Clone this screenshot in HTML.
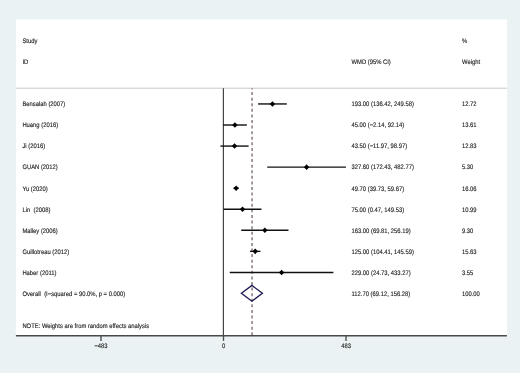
<!DOCTYPE html><html><head><meta charset="utf-8"><style>html,body{margin:0;padding:0;background:#eaf2f3;overflow:hidden}svg{display:block;will-change:transform;filter:blur(0.35px)}text{font-family:"Liberation Sans",sans-serif;font-size:5.85px;fill:#222222;white-space:pre;text-rendering:geometricPrecision;stroke:#222222;stroke-width:0.12px}</style></head><body>
<svg width="520" height="373" viewBox="0 0 520 373">
<rect x="0" y="0" width="520" height="373" fill="#eaf2f3"/>
<rect x="15.9" y="19.5" width="491" height="316" fill="#ffffff"/>
<text transform="translate(22.40 42.70) scale(1 1.120)">Study</text>
<text transform="translate(22.40 64.30) scale(1 1.120)">ID</text>
<text transform="translate(351.50 64.30) scale(1 1.120)">WMD (95% CI)</text>
<text transform="translate(462.00 42.70) scale(1 1.120)">%</text>
<text transform="translate(462.00 64.30) scale(1 1.120)">Weight</text>
<line x1="15.9" y1="88.2" x2="506.9" y2="88.2" stroke="#c8c8c8" stroke-width="1"/>
<line x1="223.4" y1="88.2" x2="223.4" y2="335.5" stroke="#454545" stroke-width="1.2"/>
<line x1="252.08" y1="88.2" x2="252.08" y2="335.5" stroke="#968a8e" stroke-width="1.7" stroke-dasharray="3.0 2.585" stroke-dashoffset="1.7"/>
<text transform="translate(22.40 106.30) scale(1 1.120)">Bensalah (2007)</text>
<text transform="translate(351.50 106.30) scale(1 1.120)">193.00 (136.42, 249.58)</text>
<text transform="translate(462.00 106.30) scale(1 1.120)">12.72</text>
<line x1="258.10" y1="103.95" x2="286.80" y2="103.95" stroke="#111" stroke-width="1.4"/>
<path d="M269.75 103.95 L272.45 101.15 L275.15 103.95 L272.45 106.75 Z" fill="#000"/>
<text transform="translate(22.40 127.36) scale(1 1.120)">Huang (2016)</text>
<text transform="translate(351.50 127.36) scale(1 1.120)">45.00 (&#8722;2.14, 92.14)</text>
<text transform="translate(462.00 127.36) scale(1 1.120)">13.61</text>
<line x1="222.96" y1="125.01" x2="246.87" y2="125.01" stroke="#111" stroke-width="1.4"/>
<path d="M232.21 125.01 L234.91 122.21 L237.61 125.01 L234.91 127.81 Z" fill="#000"/>
<text transform="translate(22.40 148.42) scale(1 1.120)">Ji (2016)</text>
<text transform="translate(351.50 148.42) scale(1 1.120)">43.50 (&#8722;11.97, 98.97)</text>
<text transform="translate(462.00 148.42) scale(1 1.120)">12.83</text>
<line x1="220.46" y1="146.07" x2="248.60" y2="146.07" stroke="#111" stroke-width="1.4"/>
<path d="M231.83 146.07 L234.53 143.27 L237.23 146.07 L234.53 148.87 Z" fill="#000"/>
<text transform="translate(22.40 169.48) scale(1 1.120)">GUAN (2012)</text>
<text transform="translate(351.50 169.48) scale(1 1.120)">327.60 (172.43, 482.77)</text>
<text transform="translate(462.00 169.48) scale(1 1.120)">5.30</text>
<line x1="267.23" y1="167.13" x2="345.94" y2="167.13" stroke="#111" stroke-width="1.4"/>
<path d="M303.89 167.13 L306.59 164.33 L309.29 167.13 L306.59 169.93 Z" fill="#000"/>
<text transform="translate(22.40 190.54) scale(1 1.120)">Yu (2020)</text>
<text transform="translate(351.50 190.54) scale(1 1.120)">49.70 (39.73, 59.67)</text>
<text transform="translate(462.00 190.54) scale(1 1.120)">16.06</text>
<line x1="233.58" y1="188.19" x2="238.63" y2="188.19" stroke="#111" stroke-width="1.4"/>
<path d="M233.41 188.19 L236.11 185.39 L238.81 188.19 L236.11 190.99 Z" fill="#000"/>
<text transform="translate(22.40 211.60) scale(1 1.120)">Lin  (2008)</text>
<text transform="translate(351.50 211.60) scale(1 1.120)">75.00 (0.47, 149.53)</text>
<text transform="translate(462.00 211.60) scale(1 1.120)">10.99</text>
<line x1="223.62" y1="209.25" x2="261.42" y2="209.25" stroke="#111" stroke-width="1.4"/>
<path d="M239.82 209.25 L242.52 206.45 L245.22 209.25 L242.52 212.05 Z" fill="#000"/>
<text transform="translate(22.40 232.66) scale(1 1.120)">Malley (2006)</text>
<text transform="translate(351.50 232.66) scale(1 1.120)">163.00 (69.81, 256.19)</text>
<text transform="translate(462.00 232.66) scale(1 1.120)">9.30</text>
<line x1="241.21" y1="230.31" x2="288.48" y2="230.31" stroke="#111" stroke-width="1.4"/>
<path d="M262.14 230.31 L264.84 227.51 L267.54 230.31 L264.84 233.11 Z" fill="#000"/>
<text transform="translate(22.40 253.72) scale(1 1.120)">Guillotreau (2012)</text>
<text transform="translate(351.50 253.72) scale(1 1.120)">125.00 (104.41, 145.59)</text>
<text transform="translate(462.00 253.72) scale(1 1.120)">15.63</text>
<line x1="249.98" y1="251.37" x2="260.43" y2="251.37" stroke="#111" stroke-width="1.4"/>
<path d="M252.50 251.37 L255.20 248.57 L257.90 251.37 L255.20 254.17 Z" fill="#000"/>
<text transform="translate(22.40 274.78) scale(1 1.120)">Haber (2011)</text>
<text transform="translate(351.50 274.78) scale(1 1.120)">229.00 (24.73, 433.27)</text>
<text transform="translate(462.00 274.78) scale(1 1.120)">3.55</text>
<line x1="229.77" y1="272.43" x2="333.39" y2="272.43" stroke="#111" stroke-width="1.4"/>
<path d="M278.88 272.43 L281.58 269.63 L284.28 272.43 L281.58 275.23 Z" fill="#000"/>
<text transform="translate(22.40 295.84) scale(1 1.120)">Overall  (I&#8722;squared = 90.0%, p = 0.000)</text>
<text transform="translate(351.50 295.84) scale(1 1.120)">112.70 (69.12, 156.28)</text>
<text transform="translate(462.00 295.84) scale(1 1.120)">100.00</text>
<path d="M241.40 293.30 L251.90 285.40 L262.40 293.30 L251.90 301.20 Z" fill="none" stroke="#201c52" stroke-width="1.35"/>
<text transform="translate(22.40 328.10) scale(1 1.120)">NOTE: Weights are from random effects analysis</text>
<line x1="15.9" y1="335.7" x2="506.9" y2="335.7" stroke="#484848" stroke-width="1.4"/>
<line x1="101.00" y1="335.6" x2="101.00" y2="340.9" stroke="#484848" stroke-width="1.3"/>
<text transform="translate(101.00 347.90) scale(1 1.120)" text-anchor="middle">&#8722;483</text>
<line x1="223.50" y1="335.6" x2="223.50" y2="340.9" stroke="#484848" stroke-width="1.3"/>
<text transform="translate(223.50 347.90) scale(1 1.120)" text-anchor="middle">0</text>
<line x1="346.00" y1="335.6" x2="346.00" y2="340.9" stroke="#484848" stroke-width="1.3"/>
<text transform="translate(346.00 347.90) scale(1 1.120)" text-anchor="middle">483</text>
</svg></body></html>
